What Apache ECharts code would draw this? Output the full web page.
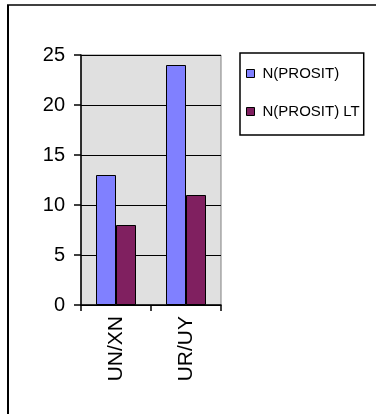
<!DOCTYPE html>
<html>
<head>
<meta charset="utf-8">
<script src="https://cdn.jsdelivr.net/npm/echarts@6/dist/echarts.min.js"></script>
<style>html,body{margin:0;padding:0;background:#fff;}#c{width:376px;height:414px;}</style>
</head>
<body>
<div id="c"></div>
<script>
var categories = ['UN/XN', 'UR/UY'];
var seriesNames = ['N(PROSIT)', 'N(PROSIT) LT'];
var valuesProsit = [13, 24];
var valuesPrositLT = [8, 11];
var yTicks = [0, 5, 10, 15, 20, 25];

var chart = echarts.init(document.getElementById('c'), null, {renderer: 'canvas'});
var font = 'Liberation Sans, Arial, sans-serif';
chart.setOption({
  animation: false,
  backgroundColor: '#fff',
  textStyle: {fontFamily: font},
  grid: {left: 81, top: 55, width: 140, height: 250, show: true, backgroundColor: '#E0E0E0', borderColor: '#808080', borderWidth: 1},
  legend: {
    orient: 'vertical', left: 240, top: 53,
    borderColor: '#000', borderWidth: 1.5,
    padding: [12, 4, 15, 6],
    itemWidth: 8, itemHeight: 8, itemGap: 21,
    icon: 'rect',
    textStyle: {fontFamily: font, fontSize: 15, color: '#000', lineHeight: 17, padding: [0, 0, 0, 3]},
    itemStyle: {borderColor: '#000', borderWidth: 1},
    data: seriesNames
  },
  xAxis: {
    type: 'category', data: categories,
    axisLine: {lineStyle: {color: '#000', width: 1.5}},
    axisTick: {show: true, length: 6, alignWithLabel: false, lineStyle: {color: '#000', width: 1.5}},
    axisLabel: {rotate: 90, margin: 11, fontSize: 21, color: '#000', fontFamily: font}
  },
  yAxis: {
    type: 'value', min: yTicks[0], max: yTicks[yTicks.length - 1], interval: 5,
    axisLine: {show: true, lineStyle: {color: '#000', width: 1.5}},
    axisTick: {show: true, length: 7, lineStyle: {color: '#000', width: 1.5}},
    splitLine: {show: true, lineStyle: {color: '#000', width: 1}},
    axisLabel: {fontSize: 20, color: '#000', margin: 16, fontFamily: font}
  },
  series: [
    {name: seriesNames[0], type: 'bar', data: valuesProsit, barWidth: 20, barGap: '0%',
     itemStyle: {color: '#8080FF', borderColor: '#000', borderWidth: 1}},
    {name: seriesNames[1], type: 'bar', data: valuesPrositLT, barWidth: 20, barGap: '0%',
     itemStyle: {color: '#802060', borderColor: '#000', borderWidth: 1}}
  ],
  graphic: [
    {type: 'line', shape: {x1: 8, y1: 5, x2: 8, y2: 414}, style: {stroke: '#000', lineWidth: 2}},
    {type: 'line', shape: {x1: 7, y1: 5, x2: 376, y2: 5}, style: {stroke: '#000', lineWidth: 1.5}}
  ]
});
</script>
</body>
</html>
